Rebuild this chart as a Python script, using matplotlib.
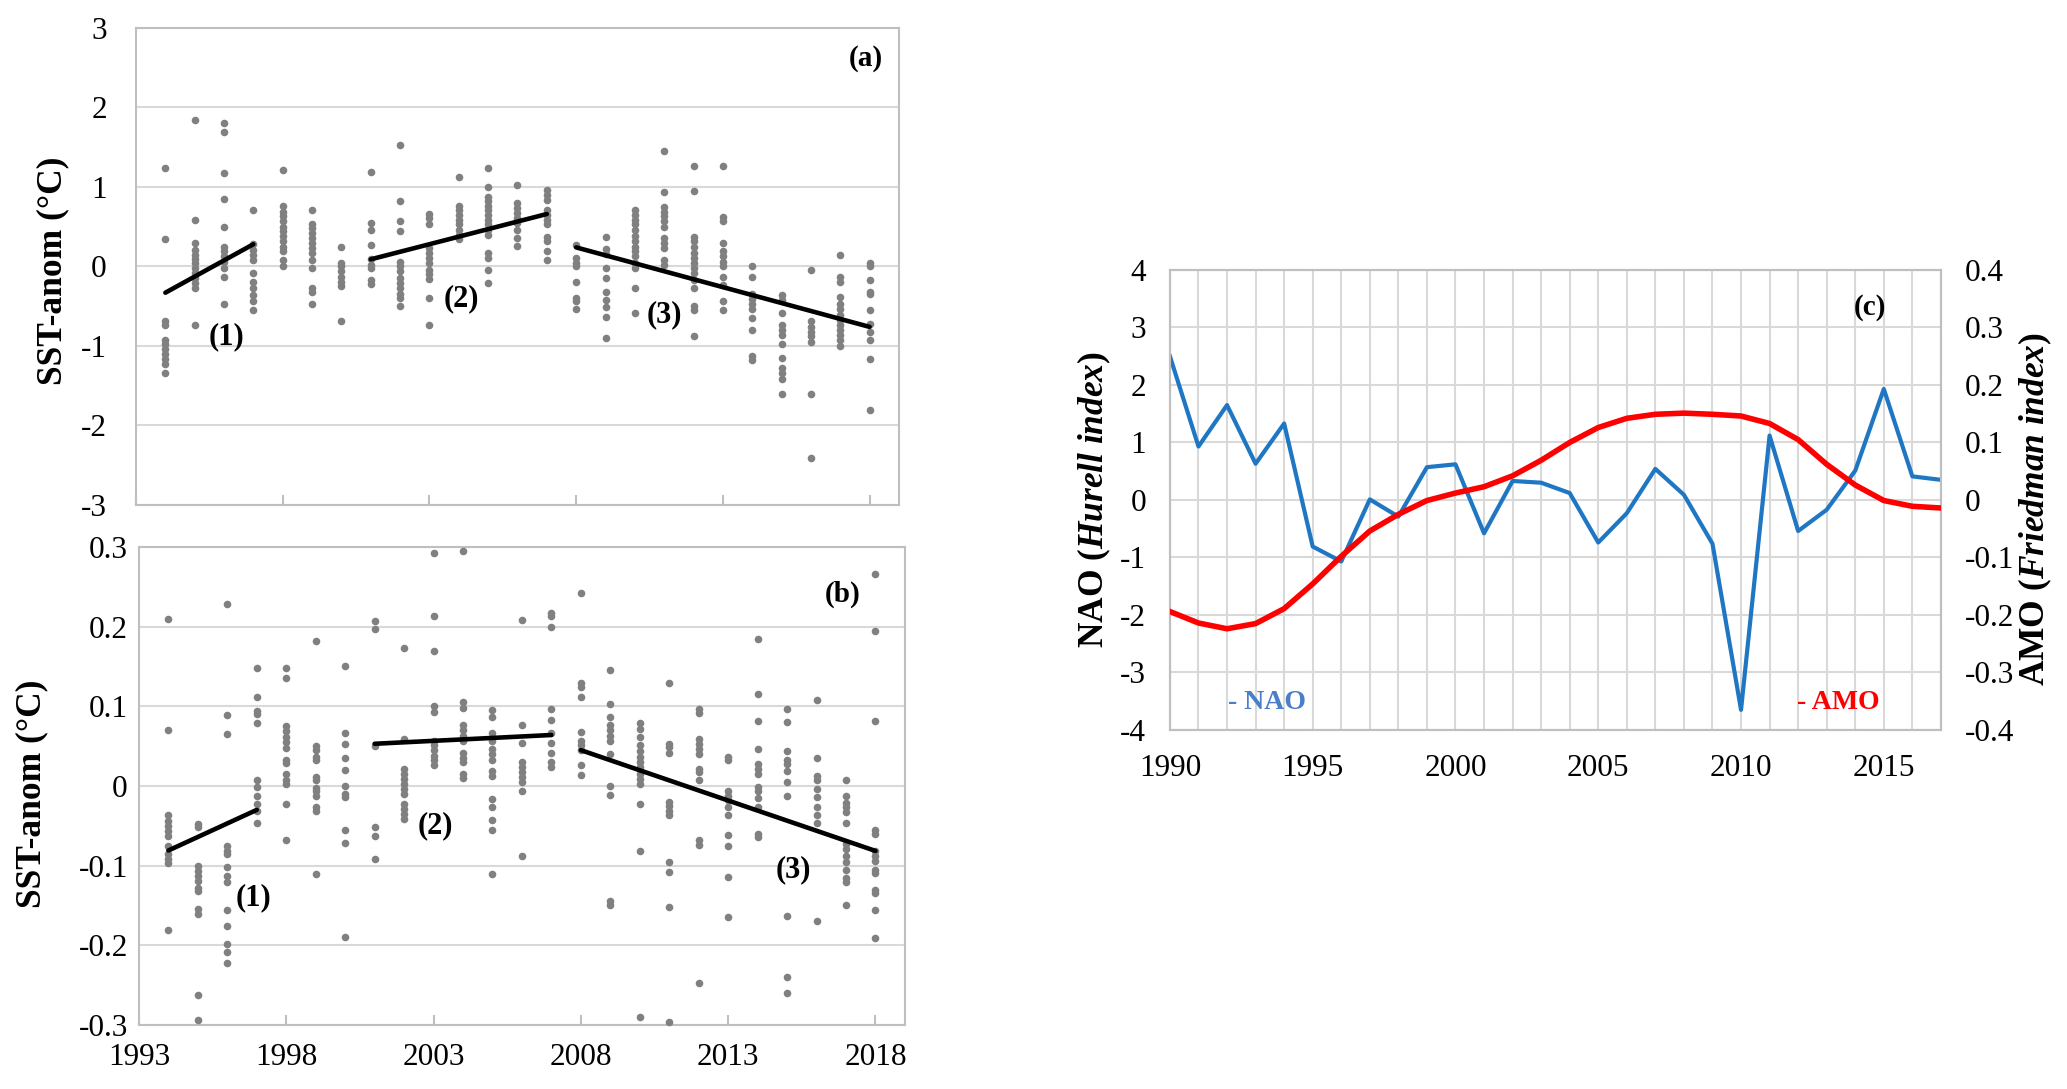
import numpy as np
import matplotlib
matplotlib.use('Agg')
import matplotlib.pyplot as plt
from matplotlib.ticker import FixedLocator, FuncFormatter

plt.rcParams['font.family'] = ['Liberation Serif', 'DejaVu Serif']
plt.rcParams['mathtext.fontset'] = 'custom'
plt.rcParams['mathtext.rm'] = 'Liberation Serif'
plt.rcParams['mathtext.it'] = 'Liberation Serif:italic'
plt.rcParams['mathtext.bf'] = 'Liberation Serif:bold'
plt.rcParams['mathtext.bfit'] = 'Liberation Serif:italic:bold'

# ---- panels (a) and (b): monthly SST anomalies per year ----
years = [1994, 1995, 1996, 1997, 1998, 1999, 2000, 2001, 2002, 2003, 2004, 2005, 2006,
         2007, 2008, 2009, 2010, 2011, 2012, 2013, 2014, 2015, 2016, 2017, 2018]

anom_a = [
    [1.24, 0.34, -0.68, -0.74, -0.92, -0.98, -1.04, -1.10, -1.16, -1.23, -1.34],
    [1.84, 0.59, 0.30, 0.21, 0.15, 0.09, 0.04, -0.02, -0.08, -0.15, -0.21, -0.27, -0.73],
    [1.81, 1.69, 1.18, 0.85, 0.50, 0.25, 0.19, 0.13, 0.06, -0.02, -0.13, -0.47],
    [0.71, 0.28, 0.21, 0.15, 0.08, -0.08, -0.19, -0.27, -0.36, -0.44, -0.55],
    [1.21, 0.76, 0.69, 0.63, 0.57, 0.50, 0.44, 0.38, 0.32, 0.25, 0.19, 0.08, 0.01],
    [0.71, 0.53, 0.48, 0.42, 0.36, 0.29, 0.23, 0.17, 0.08, -0.02, -0.27, -0.32, -0.47],
    [0.25, 0.05, 0.0, -0.06, -0.13, -0.19, -0.25, -0.68],
    [1.19, 0.55, 0.46, 0.27, 0.09, 0.02, -0.02, -0.17, -0.22],
    [1.53, 0.82, 0.57, 0.45, 0.06, 0.0, -0.06, -0.15, -0.21, -0.27, -0.34, -0.40, -0.50],
    [0.66, 0.61, 0.54, 0.23, 0.17, 0.11, 0.04, -0.04, -0.09, -0.16, -0.40, -0.73],
    [1.13, 0.76, 0.71, 0.65, 0.59, 0.53, 0.46, 0.40, 0.34],
    [1.24, 1.00, 0.87, 0.82, 0.76, 0.71, 0.65, 0.59, 0.53, 0.46, 0.40, 0.17, 0.11, -0.05, -0.21],
    [1.03, 0.80, 0.74, 0.67, 0.61, 0.55, 0.46, 0.36, 0.26],
    [0.96, 0.90, 0.84, 0.71, 0.65, 0.59, 0.53, 0.37, 0.32, 0.19, 0.08],
    [0.27, 0.11, 0.05, 0.0, -0.19, -0.40, -0.44, -0.53],
    [0.37, 0.22, 0.16, -0.02, -0.15, -0.32, -0.42, -0.51, -0.63, -0.90],
    [0.71, 0.65, 0.59, 0.53, 0.46, 0.38, 0.32, 0.25, 0.19, 0.13, 0.04, -0.02, -0.27, -0.58],
    [1.45, 0.94, 0.75, 0.69, 0.63, 0.57, 0.50, 0.36, 0.29, 0.23, 0.08, 0.02],
    [1.26, 0.95, 0.37, 0.32, 0.25, 0.17, 0.11, 0.04, -0.02, -0.08, -0.17, -0.27, -0.50, -0.55, -0.88],
    [1.26, 0.62, 0.57, 0.29, 0.19, 0.13, 0.06, 0.0, -0.13, -0.23, -0.44, -0.55],
    [0.0, -0.13, -0.34, -0.41, -0.47, -0.53, -0.65, -0.80, -1.13, -1.18],
    [-0.36, -0.42, -0.59, -0.74, -0.80, -0.86, -0.97, -1.15, -1.28, -1.34, -1.41, -1.60],
    [-0.05, -0.69, -0.76, -0.82, -0.88, -0.95, -1.60, -2.41],
    [0.15, -0.13, -0.19, -0.38, -0.47, -0.54, -0.61, -0.67, -0.74, -0.80, -0.86, -0.92, -1.00],
    [0.05, 0.01, -0.17, -0.32, -0.34, -0.55, -0.72, -0.83, -0.93, -1.16, -1.80],
]

anom_b = [
    [0.210, 0.070, -0.037, -0.044, -0.050, -0.056, -0.063, -0.075, -0.086, -0.092, -0.097, -0.181],
    [-0.048, -0.052, -0.100, -0.107, -0.113, -0.119, -0.128, -0.132, -0.155, -0.161, -0.263, -0.294],
    [0.229, 0.089, 0.065, -0.075, -0.082, -0.086, -0.102, -0.113, -0.121, -0.156, -0.176, -0.198, -0.208, -0.222],
    [0.148, 0.112, 0.094, 0.090, 0.079, 0.008, -0.001, -0.013, -0.023, -0.032, -0.047],
    [0.148, 0.136, 0.075, 0.069, 0.061, 0.055, 0.048, 0.033, 0.029, 0.015, 0.007, 0.003, -0.023, -0.068],
    [0.182, 0.050, 0.045, 0.036, 0.032, 0.011, 0.007, -0.002, -0.006, -0.013, -0.027, -0.031, -0.110],
    [0.150, 0.066, 0.053, 0.035, 0.020, 0.0, -0.010, -0.014, -0.055, -0.071, -0.189],
    [0.207, 0.197, 0.050, -0.051, -0.063, -0.092],
    [0.173, 0.059, 0.021, 0.015, 0.009, 0.003, -0.004, -0.010, -0.023, -0.029, -0.035, -0.042],
    [0.292, 0.213, 0.170, 0.101, 0.093, 0.057, 0.051, 0.045, 0.038, 0.032, 0.026],
    [0.295, 0.105, 0.098, 0.076, 0.070, 0.063, 0.057, 0.042, 0.035, 0.030, 0.015, 0.010],
    [0.096, 0.087, 0.066, 0.057, 0.047, 0.040, 0.032, 0.019, 0.012, -0.016, -0.027, -0.043, -0.055, -0.110],
    [0.208, 0.076, 0.054, 0.030, 0.024, 0.017, 0.011, 0.005, -0.006, -0.088],
    [0.217, 0.213, 0.200, 0.097, 0.083, 0.066, 0.054, 0.042, 0.030, 0.024],
    [0.242, 0.129, 0.124, 0.112, 0.068, 0.057, 0.052, 0.045, 0.026, 0.014],
    [0.145, 0.103, 0.087, 0.076, 0.070, 0.063, 0.057, 0.040, 0.000, -0.011, -0.145, -0.149],
    [0.079, 0.072, 0.061, 0.052, 0.044, 0.036, 0.030, 0.024, 0.015, 0.009, 0.003, -0.023, -0.081, -0.290],
    [0.129, 0.053, 0.049, 0.042, -0.020, -0.025, -0.032, -0.037, -0.095, -0.108, -0.152, -0.296],
    [0.097, 0.091, 0.059, 0.053, 0.047, 0.040, 0.021, 0.018, 0.007, -0.068, -0.074, -0.247],
    [0.036, 0.032, -0.006, -0.012, -0.018, -0.027, -0.036, -0.061, -0.075, -0.114, -0.165],
    [0.185, 0.116, 0.082, 0.047, 0.027, 0.021, 0.015, -0.001, -0.006, -0.015, -0.027, -0.060, -0.064],
    [0.097, 0.080, 0.044, 0.033, 0.028, 0.019, 0.005, -0.013, -0.163, -0.240, -0.260],
    [0.108, 0.035, 0.012, 0.007, -0.004, -0.014, -0.026, -0.037, -0.046, -0.170],
    [0.008, -0.013, -0.021, -0.027, -0.033, -0.047, -0.073, -0.079, -0.088, -0.095, -0.105, -0.115, -0.121, -0.150],
    [0.266, 0.195, 0.082, -0.055, -0.060, -0.082, -0.088, -0.094, -0.105, -0.109, -0.130, -0.134, -0.156, -0.191],
]

# linear trends for periods (1), (2), (3)
trend_x = [[1994, 1997], [2001, 2007], [2008, 2018]]
trend_a = [[-0.33, 0.28], [0.09, 0.66], [0.24, -0.76]]
trend_b = [[-0.081, -0.030], [0.053, 0.064], [0.045, -0.0815]]

period_labels = ['(1)', '(2)', '(3)']
label_pos_a = [(1996.1, -0.88), (2004.1, -0.40), (2011.0, -0.61)]
label_pos_b = [(1996.9, -0.140), (2003.05, -0.050), (2015.2, -0.105)]

ticks_a = [-3, -2, -1, 0, 1, 2, 3]
ticks_b = [-0.3, -0.2, -0.1, 0, 0.1, 0.2, 0.3]
year_ticks = [1993, 1998, 2003, 2008, 2013, 2018]

# ---- panel (c): NAO and AMO indices ----
years_c = [1990, 1991, 1992, 1993, 1994, 1995, 1996, 1997, 1998, 1999, 2000, 2001, 2002, 2003,
           2004, 2005, 2006, 2007, 2008, 2009, 2010, 2011, 2012, 2013, 2014, 2015, 2016, 2017]
nao = [2.50, 0.93, 1.65, 0.63, 1.33, -0.81, -1.07, 0.01, -0.29, 0.57, 0.62, -0.58, 0.33, 0.30,
       0.12, -0.74, -0.23, 0.54, 0.09, -0.76, -3.65, 1.12, -0.54, -0.17, 0.51, 1.93, 0.41, 0.35]
amo = [-0.194, -0.214, -0.224, -0.215, -0.189, -0.146, -0.098, -0.054, -0.025, -0.001, 0.012,
       0.023, 0.042, 0.069, 0.100, 0.126, 0.142, 0.149, 0.151, 0.149, 0.146, 0.133, 0.105,
       0.062, 0.026, -0.001, -0.011, -0.014]
ticks_nao = [-4, -3, -2, -1, 0, 1, 2, 3, 4]
ticks_amo = [-0.4, -0.3, -0.2, -0.1, 0, 0.1, 0.2, 0.3, 0.4]
year_ticks_c = [1990, 1995, 2000, 2005, 2010, 2015]

SPINE = '#bfbfbf'
GRID = '#d9d9d9'
DOT = '#808080'
NAO_C = '#1f77c4'
AMO_C = '#ff0000'
TICK_FS = 22.5

fmt = FuncFormatter(lambda v, p: '{:g}'.format(round(v, 3)))


def style_box(ax):
    for s in ax.spines.values():
        s.set_color(SPINE)
        s.set_linewidth(1.5)
    ax.set_axisbelow(True)


def sst_panel(ax, vals, trend_y, label_pos, yticks, tag, tag_pos, ypad, show_x):
    xs = np.repeat(years, [len(v) for v in vals])
    ys = np.concatenate([np.array(v, dtype=float) for v in vals])
    ax.scatter(xs, ys, s=30, color=DOT, linewidths=0, zorder=3, clip_on=False)
    for tx, ty in zip(trend_x, trend_y):
        ax.plot(tx, ty, color='black', lw=3.3, solid_capstyle='round', zorder=4)
    for lab, (lx, ly) in zip(period_labels, label_pos):
        ax.text(lx, ly, lab, fontsize=22, fontweight='bold', ha='center', va='center', zorder=5)
    ax.text(tag_pos[0], tag_pos[1], tag, fontsize=21, fontweight='bold', ha='center', va='center')
    ax.set_xlim(1993, 2019)
    ax.set_ylim(yticks[0], yticks[-1])
    ax.set_yticks(yticks)
    ax.yaxis.set_major_formatter(fmt)
    ax.set_xticks(year_ticks)
    ax.grid(axis='y', color=GRID, lw=1.5)
    ax.tick_params(axis='y', length=0, labelsize=TICK_FS, pad=ypad)
    ax.tick_params(axis='x', direction='in', length=7, width=1.5, color=SPINE,
                   labelsize=TICK_FS, pad=13, labelbottom=show_x)
    style_box(ax)


fig = plt.figure(figsize=(20.67, 10.89), dpi=100)

ax_a = fig.add_axes([0.0658, 0.5363, 0.3691, 0.4380])
sst_panel(ax_a, anom_a, trend_a, label_pos_a, ticks_a, '(a)', (2017.86, 2.62), 21, False)
ax_a.text(-0.109, 0.49, 'SST-anom (°C)', transform=ax_a.transAxes, rotation=90,
          ha='center', va='center', fontsize=25.5, fontweight='bold')

ax_b = fig.add_axes([0.0672, 0.0588, 0.3706, 0.4389])
sst_panel(ax_b, anom_b, trend_b, label_pos_b, ticks_b, '(b)', (2016.9, 0.240), 8, True)
ax_b.text(-0.14, 0.483, 'SST-anom (°C)', transform=ax_b.transAxes, rotation=90,
          ha='center', va='center', fontsize=25.5, fontweight='bold')

# panel (c)
ax_c = fig.add_axes([0.5660, 0.3297, 0.3730, 0.4224])
ax_c.plot(years_c, nao, color=NAO_C, lw=3.0, zorder=3)
ax_c.set_xlim(1990, 2017)
ax_c.set_ylim(-4, 4)
ax_c.set_yticks(ticks_nao)
ax_c.yaxis.set_major_formatter(fmt)
ax_c.set_xticks(year_ticks_c)
ax_c.xaxis.set_minor_locator(FixedLocator(years_c))
ax_c.grid(which='both', color=GRID, lw=1.5)
ax_c.tick_params(which='both', length=0, labelsize=TICK_FS, pad=17)
style_box(ax_c)

ax_r = ax_c.twinx()
ax_r.plot(years_c, amo, color=AMO_C, lw=4.0, zorder=4)
ax_r.set_ylim(-0.4, 0.4)
ax_r.set_yticks(ticks_amo)
ax_r.yaxis.set_major_formatter(fmt)
ax_r.tick_params(length=0, labelsize=TICK_FS, pad=17)
style_box(ax_r)

ax_r.text(2014.5, 0.334, '(c)', fontsize=21, fontweight='bold', ha='center', va='center')
ax_r.text(1993.4, -0.353, '- NAO', fontsize=20, fontweight='bold', color='#4a7ec8',
          ha='center', va='center')
ax_r.text(2013.4, -0.353, '- AMO', fontsize=20, fontweight='bold', color=AMO_C,
          ha='center', va='center')

ax_c.text(-0.0986, 0.5, r'NAO ($\mathbfit{Hurell\ index}$)', transform=ax_c.transAxes,
          rotation=90, ha='center', va='center', fontsize=25.5, fontweight='bold')
ax_c.text(1.122, 0.48, r'AMO ($\mathbfit{Friedman\ index}$)', transform=ax_c.transAxes,
          rotation=90, ha='center', va='center', fontsize=25.5, fontweight='bold')

fig.savefig('out.png', dpi=100, facecolor='white')
